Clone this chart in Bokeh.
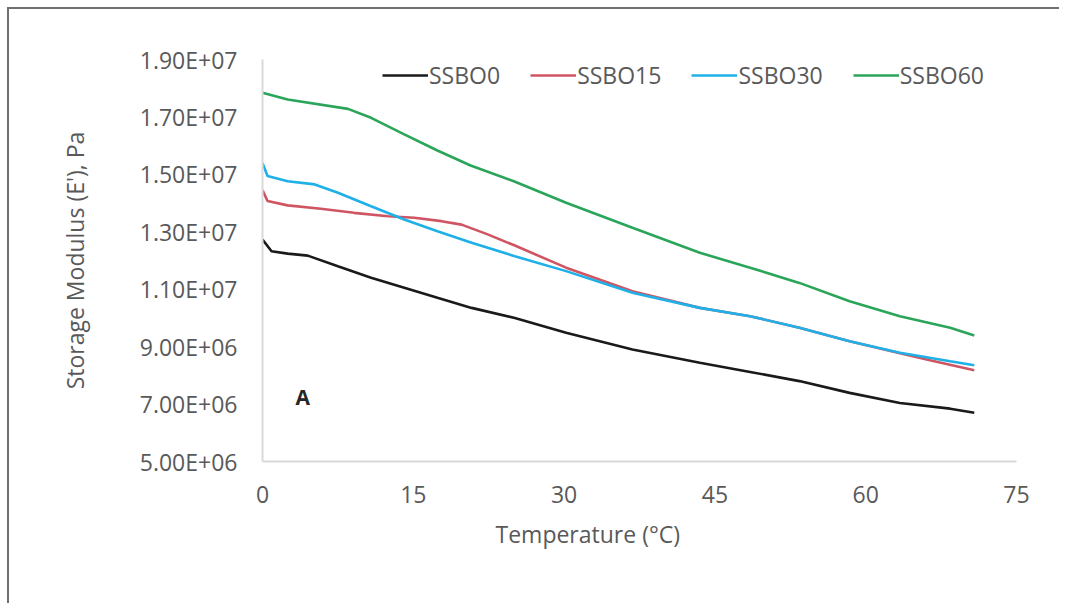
from bokeh.plotting import figure
from bokeh.models import Range1d, FixedTicker, Legend, LegendItem, Label, Title
from bokeh.core.properties import value
from bokeh.embed import file_html
from bokeh.resources import INLINE

# ---- data ----
t_ssbo0 = [0, 0.9, 2.5, 4.5, 7.5, 10.8, 14.1, 17.4, 20.8, 25.1, 30.2, 36.8, 43.5, 48.5, 53.4, 58.4, 63.4, 68.4, 70.8]
e_ssbo0 = [1.273e7, 1.232e7, 1.224e7, 1.217e7, 1.180e7, 1.140e7, 1.105e7, 1.070e7, 1.035e7, 1.000e7,
           9.48e6, 8.90e6, 8.44e6, 8.12e6, 7.80e6, 7.39e6, 7.04e6, 6.84e6, 6.70e6]

t_ssbo15 = [0, 0.5, 2.5, 5.8, 9.1, 12.5, 15.1, 17.8, 19.8, 22.4, 25.1, 30.2, 36.8, 43.5, 48.5, 53.4, 58.4, 63.4, 66.5, 70.8]
e_ssbo15 = [1.445e7, 1.407e7, 1.392e7, 1.380e7, 1.366e7, 1.354e7, 1.349e7, 1.337e7, 1.325e7, 1.291e7,
            1.252e7, 1.175e7, 1.093e7, 1.035e7, 1.006e7, 9.66e6, 9.19e6, 8.77e6, 8.52e6, 8.18e6]

t_ssbo30 = [0, 0.5, 2.5, 5.2, 7.5, 10.8, 14.1, 17.4, 20.8, 25.1, 30.2, 36.8, 43.5, 48.5, 53.4, 58.4, 63.4, 68.4, 70.8]
e_ssbo30 = [1.540e7, 1.494e7, 1.476e7, 1.465e7, 1.436e7, 1.389e7, 1.343e7, 1.302e7, 1.262e7, 1.215e7,
            1.163e7, 1.088e7, 1.035e7, 1.006e7, 9.66e6, 9.19e6, 8.79e6, 8.49e6, 8.35e6]

t_ssbo60 = [0, 2.5, 8.5, 10.8, 14.1, 17.4, 20.7, 25.0, 30.2, 36.8, 43.5, 48.5, 53.4, 58.4, 63.4, 68.4, 70.8]
e_ssbo60 = [1.784e7, 1.761e7, 1.728e7, 1.697e7, 1.639e7, 1.583e7, 1.531e7, 1.476e7, 1.401e7,
            1.314e7, 1.227e7, 1.175e7, 1.122e7, 1.058e7, 1.006e7, 9.66e6, 9.39e6]

series_names = ["SSBO0", "SSBO15", "SSBO30", "SSBO60"]
series_colors = ["#1a1a1a", "#cf5563", "#1fb0e8", "#2aa55a"]

x_ticks = [0, 15, 30, 45, 60, 75]
y_ticks = [5e6, 7e6, 9e6, 1.1e7, 1.3e7, 1.5e7, 1.7e7, 1.9e7]
y_tick_labels = ["5.00E+06", "7.00E+06", "9.00E+06", "1.10E+07", "1.30E+07", "1.50E+07", "1.70E+07", "1.90E+07"]

FONT = "Open Sans"
TXT = "#595959"

p = figure(width=1052, height=596, output_backend="svg", toolbar_location=None,
           x_range=Range1d(0, 75), y_range=Range1d(5e6, 1.9e7),
           min_border_left=253, min_border_top=50, min_border_right=45, min_border_bottom=144)
p.styles = {"border-left": "2px solid #6f6f6f", "border-top": "2px solid #6f6f6f",
            "margin-left": "7px", "margin-top": "7px"}
p.outline_line_color = None
p.grid.visible = False
p.background_fill_color = "white"
p.border_fill_color = "white"

for ax in (p.xaxis[0], p.yaxis[0]):
    ax.axis_line_color = "#d9d9d9"
    ax.axis_line_width = 2
    ax.major_tick_line_color = None
    ax.minor_tick_line_color = None
    ax.major_tick_in = 0
    ax.major_tick_out = 0
    ax.minor_tick_in = 0
    ax.minor_tick_out = 0
    ax.major_label_text_font = FONT
    ax.major_label_text_font_size = "23px"
    ax.major_label_text_color = TXT

p.xaxis.ticker = FixedTicker(ticks=x_ticks)
p.yaxis.ticker = FixedTicker(ticks=y_ticks)
p.yaxis.major_label_overrides = {t: l for t, l in zip(y_ticks, y_tick_labels)}
p.xaxis.major_label_standoff = 24
p.yaxis.major_label_standoff = 25

p.yaxis.axis_label = "Storage Modulus (E'), Pa"
p.yaxis.axis_label_text_font = FONT
p.yaxis.axis_label_text_font_size = "23px"
p.yaxis.axis_label_text_font_style = "normal"
p.yaxis.axis_label_text_color = TXT
p.yaxis.axis_label_standoff = 46

xt = Title(text="Temperature (°C)", align="left", offset=233, text_font=FONT,
           text_font_size="23px", text_font_style="normal", text_color=TXT, standoff=20)
p.add_layout(xt, "below")

ts = [t_ssbo0, t_ssbo15, t_ssbo30, t_ssbo60]
es = [e_ssbo0, e_ssbo15, e_ssbo30, e_ssbo60]
items = []
for name, color, t, e in zip(series_names, series_colors, ts, es):
    r = p.line(t, e, line_color=color, line_width=2.6)
    items.append(LegendItem(label=name, renderers=[r]))

legend = Legend(items=items, orientation="horizontal", location=(120, 370),
                label_text_font=FONT, label_text_font_size="23px", label_text_color=TXT,
                glyph_width=46, label_standoff=1, spacing=30, padding=0, margin=0,
                border_line_color=None, background_fill_alpha=0)
p.add_layout(legend, "center")

p.add_layout(Label(x=4.0, y=7.23e6, text="A", text_font=FONT, text_font_size="21px",
                   text_font_style="bold", text_color="#262626",
                   text_align="center", text_baseline="middle"))

open("out.html", "w").write(file_html(p, INLINE))
